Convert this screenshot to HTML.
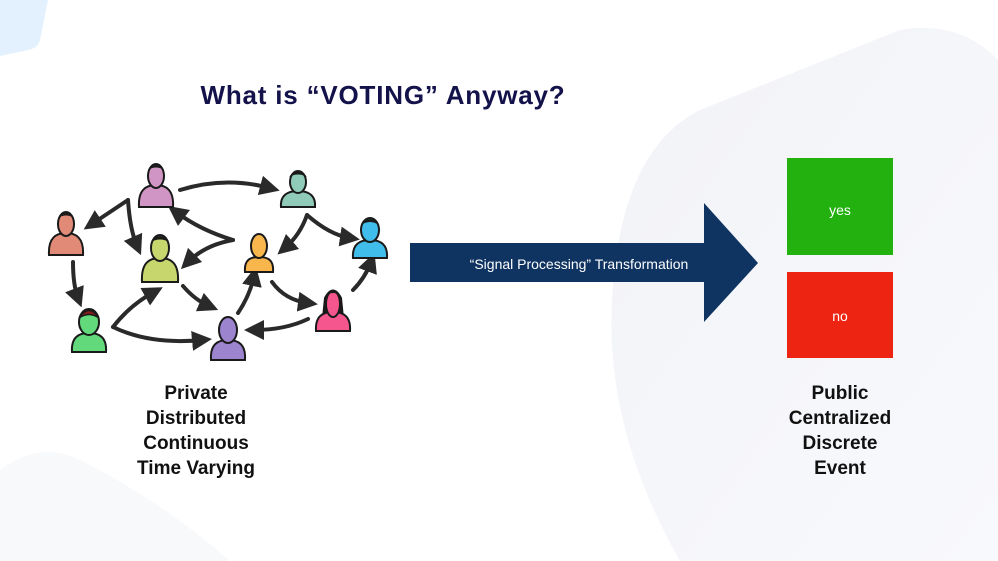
<!DOCTYPE html>
<html><head><meta charset="utf-8"><style>
html,body{margin:0;padding:0;width:998px;height:561px;overflow:hidden;background:#fff;font-family:"Liberation Sans",sans-serif;}
</style></head><body>
<svg width="998" height="561" viewBox="0 0 998 561" xmlns="http://www.w3.org/2000/svg">
<defs>
<linearGradient id="bg" x1="0" y1="0" x2="1" y2="1"><stop offset="0" stop-color="#f2f3f7"/><stop offset="1" stop-color="#f8f9fc"/></linearGradient>
<marker id="ah" markerWidth="5" markerHeight="5" refX="2.5" refY="2.5" orient="auto" markerUnits="strokeWidth"><path d="M0,0 L5,2.5 L0,5 Z" fill="#2a2a2a"/></marker>
</defs>
<rect width="998" height="561" fill="#fff"/>
<path d="M0,0 H48 L40,40 Q38,48 28,50 L0,56 Z" fill="#e3f0fd"/>
<path d="M700,110 Q620,150 612,300 Q605,430 680,561 H998 V60 Q960,20 900,30 Z" fill="url(#bg)"/>
<path d="M0,470 Q40,440 80,460 Q160,500 230,561 H0 Z" fill="#f8f9fb"/>
<text x="383" y="104" text-anchor="middle" font-size="26" font-weight="bold" letter-spacing="0.8" fill="#14124a">What is “VOTING” Anyway?</text>
<g fill="none" stroke="#2a2a2a" stroke-width="4" stroke-linecap="round" marker-end="url(#ah)">
<path d="M180,190 Q225,176 270,188"/>
<path d="M128,200 L92,224"/>
<path d="M128,200 Q130,230 137,246"/>
<path d="M233,240 Q200,230 176,212"/>
<path d="M233,240 Q205,245 188,262"/>
<path d="M307,215 Q300,235 285,248"/>
<path d="M307,215 Q330,235 350,238"/>
<path d="M73,262 Q73,285 78,298"/>
<path d="M113,327 Q130,305 154,292"/>
<path d="M113,327 Q150,345 202,340"/>
<path d="M183,286 Q195,300 209,306"/>
<path d="M238,313 Q250,295 254,276"/>
<path d="M272,282 Q285,300 308,303"/>
<path d="M308,319 Q285,330 254,330"/>
<path d="M353,290 Q365,278 371,262"/>
</g>
<g stroke="#1a1a1a" stroke-width="2">
<g fill="#d095c4"><path d="M139,207 C138,190 146,185 156,185 C166,185 174,190 173,207 Z"/><ellipse cx="156" cy="176" rx="8" ry="12"/></g>
<g fill="#90cbb9"><path d="M281,207 C280,195 288,191 298,191 C308,191 316,195 315,207 Z"/><ellipse cx="298" cy="182" rx="8" ry="11"/></g>
<g fill="#e28a78"><path d="M49,255 C48,238 56,233 66,233 C76,233 84,238 83,255 Z"/><ellipse cx="66" cy="224" rx="8" ry="12"/></g>
<g fill="#c8d66e"><path d="M142,282 C141,263 149,258 160,258 C171,258 179,263 178,282 Z"/><ellipse cx="160" cy="248" rx="9" ry="13"/></g>
<g fill="#f8b64c"><path d="M245,272 C244,260 250,257 259,257 C268,257 274,260 273,272 Z"/><ellipse cx="259" cy="246" rx="8" ry="12"/></g>
<g fill="#40bdea"><path d="M353,258 C352,244 360,240 370,240 C380,240 388,244 387,258 Z"/><ellipse cx="370" cy="230" rx="9" ry="12"/></g>
<g fill="#62d97a"><path d="M72,352 C71,337 79,333 89,333 C99,333 107,337 106,352 Z"/><ellipse cx="89" cy="322" rx="10" ry="13"/></g>
<g fill="#9d84cf"><path d="M211,360 C210,344 218,340 228,340 C238,340 246,344 245,360 Z"/><ellipse cx="228" cy="330" rx="9" ry="13"/></g>
<path d="M323,318 L325,298 Q333,283 341,298 L343,318 Z" fill="#1a1a1a"/>
<g fill="#f5568d"><path d="M316,331 C315,316 323,312 333,312 C343,312 351,316 350,331 Z"/><ellipse cx="333" cy="304" rx="7" ry="13"/></g>
</g>
<g fill="#1a1a1a"><path d="M148,170 Q156,158 164,170 Q156,165 148,170Z"/><path d="M289,177 Q298,164 307,177 Q298,172 289,177Z"/><path d="M58,218 Q66,207 74,218 Q66,213 58,218Z"/><path d="M151,242 Q160,230 169,242 Q160,237 151,242Z"/><path d="M361,225 Q370,213 379,225 Q370,219 361,225Z"/><path d="M327,295 Q333,285 339,295 Q333,291 327,295Z"/></g>
<path d="M79,318 Q89,303 99,318 Q89,311 79,318Z" fill="#8b1a1a" stroke="#1a1a1a" stroke-width="1.5"/>
<g font-size="19" font-weight="bold" fill="#111" text-anchor="middle">
<text x="196" y="399">Private</text><text x="196" y="424">Distributed</text><text x="196" y="449">Continuous</text><text x="196" y="474">Time Varying</text>
<text x="840" y="399">Public</text><text x="840" y="424">Centralized</text><text x="840" y="449">Discrete</text><text x="840" y="474">Event</text>
</g>
<path d="M410,243 H704 V203 L758,263 L704,322 V282 H410 Z" fill="#0f3461"/>
<text x="579" y="269" text-anchor="middle" font-size="14" fill="#fff">“Signal Processing” Transformation</text>
<rect x="787" y="158" width="106" height="97" fill="#22b10f"/>
<rect x="787" y="272" width="106" height="86" fill="#ee2413"/>
<text x="840" y="215" text-anchor="middle" font-size="14" fill="#fff">yes</text>
<text x="840" y="321" text-anchor="middle" font-size="14" fill="#fff">no</text>
</svg>
</body></html>
